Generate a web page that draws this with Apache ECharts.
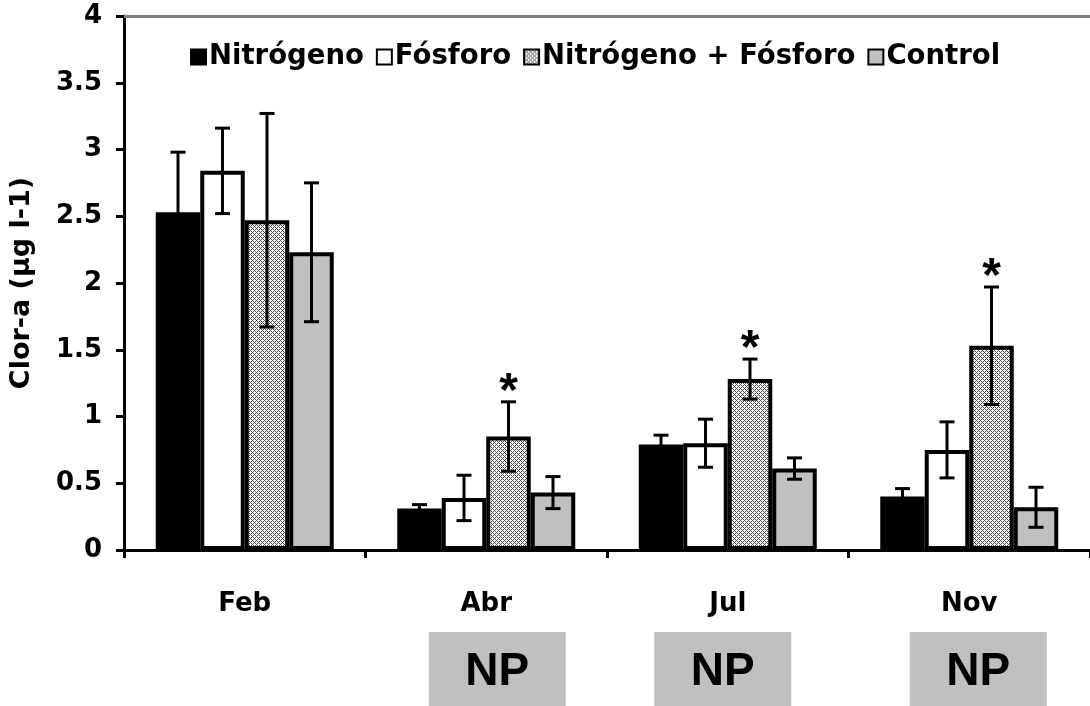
<!DOCTYPE html>
<html>
<head>
<meta charset="utf-8">
<script src="https://cdn.jsdelivr.net/npm/echarts@6/dist/echarts.min.js"></script>
<style>
  html, body { margin: 0; padding: 0; background: #fff; }
  #chart { width: 1090px; height: 706px; }
</style>
</head>
<body>
<div id="chart"></div>
<script>
// Sampling months
const months = ['Feb', 'Abr', 'Jul', 'Nov'];

// Treatment names
const seriesNames = ['Nitrógeno', 'Fósforo', 'Nitrógeno + Fósforo', 'Control'];

// Mean chlorophyll-a per treatment (µg l-1)
const nitrogeno = [2.53, 0.31, 0.79, 0.40];
const fosforo   = [2.84, 0.39, 0.80, 0.75];
const nitFos    = [2.47, 0.85, 1.28, 1.53];
const control   = [2.23, 0.43, 0.61, 0.32];

// Error (± half-range) for each mean
const nitrogenoErr = [0.45, 0.03, 0.07, 0.06];
const fosforoErr   = [0.32, 0.17, 0.18, 0.21];
const nitFosErr    = [0.80, 0.26, 0.15, 0.44];
const controlErr   = [0.52, 0.12, 0.08, 0.15];

// Significant N+P response marked with an asterisk
const nitFosSignif = [false, true, true, true];

// Y axis ticks
const yTicks = [0, 0.5, 1, 1.5, 2, 2.5, 3, 3.5, 4];

// Months with N+P co-limitation
const npMonths = ['Abr', 'Jul', 'Nov'];
const npLabel = 'NP';

const FONT = 'DejaVu Sans';
const FONT_ARIAL = 'Liberation Sans';
const BAR_W = 44.5;

// Fine cross-hatched fill for the N+P bars
function hatch() {
  const c = document.createElement('canvas');
  c.width = 4; c.height = 4;
  const ctx = c.getContext('2d');
  ctx.fillStyle = '#ffffff';
  ctx.fillRect(0, 0, 4, 4);
  ctx.fillStyle = '#4a4a4a';
  for (let x = 0; x < 4; x++) {
    for (let y = 0; y < 4; y++) {
      if ((x + y) % 4 === 0 || (x - y + 8) % 4 === 0) ctx.fillRect(x, y, 1, 1);
    }
  }
  return c;
}

const fills = ['#000000', '#ffffff', { image: hatch(), repeat: 'repeat' }, '#c0c0c0'];
const means = [nitrogeno, fosforo, nitFos, control];
const errs = [nitrogenoErr, fosforoErr, nitFosErr, controlErr];

const chart = echarts.init(document.getElementById('chart'), null, { renderer: 'canvas' });

const barSeries = seriesNames.map((name, i) => ({
  name: name,
  type: 'bar',
  data: means[i],
  barWidth: BAR_W,
  barGap: '0%',
  itemStyle: { color: fills[i], borderColor: '#000', borderWidth: 4 },
  emphasis: { disabled: true },
  z: 2
}));

const errSeries = seriesNames.map((name, i) => ({
  type: 'custom',
  data: months.map((m, k) => [k, means[i][k], errs[i][k], (i === 2 && nitFosSignif[k]) ? 1 : 0]),
  z: 5,
  silent: true,
  renderItem: function (params, api) {
    const k = api.value(0), v = api.value(1), e = api.value(2), sig = api.value(3);
    const c = api.coord([k, v]);
    const x = c[0] + (i - 1.5) * BAR_W;
    const yTop = api.coord([k, v + e])[1];
    const yBot = api.coord([k, v - e])[1];
    const cap = 7.5;
    const st = { stroke: '#000', lineWidth: 3 };
    const children = [
      { type: 'line', shape: { x1: x, y1: yTop, x2: x, y2: yBot }, style: st },
      { type: 'line', shape: { x1: x - cap, y1: yTop, x2: x + cap, y2: yTop }, style: st },
      { type: 'line', shape: { x1: x - cap, y1: yBot, x2: x + cap, y2: yBot }, style: st }
    ];
    if (sig) {
      children.push({
        type: 'text',
        style: {
          x: x, y: yTop - 9, text: '*', fill: '#000',
          font: 'bold 48px ' + FONT_ARIAL, textAlign: 'center', textVerticalAlign: 'middle'
        }
      });
    }
    return { type: 'group', children: children };
  }
}));

const option = {
  animation: false,
  backgroundColor: '#ffffff',
  legend: {
    data: seriesNames,
    left: 185,
    top: 38,
    icon: 'rect',
    itemWidth: 15,
    itemHeight: 15,
    itemGap: 12,
    itemStyle: { borderColor: '#000', borderWidth: 2 },
    textStyle: { fontFamily: FONT, fontWeight: 'bold', fontSize: 27.5, color: '#000', padding: [0, 0, 0, -2] },
    selectedMode: false
  },
  grid: { left: 124, top: 16, width: 974, height: 534, containLabel: false },
  xAxis: [
    {
      type: 'category',
      data: months,
      boundaryGap: true,
      axisLine: { lineStyle: { color: '#000', width: 3 } },
      axisTick: { show: true, length: 8, alignWithLabel: false, lineStyle: { color: '#000', width: 3 } },
      axisLabel: { fontFamily: FONT, fontWeight: 'bold', fontSize: 26, color: '#000', margin: 41 }
    },
    {
      type: 'category',
      data: months,
      position: 'top',
      axisLine: { lineStyle: { color: '#808080', width: 3 } },
      axisTick: { show: false },
      axisLabel: { show: false }
    }
  ],
  yAxis: {
    type: 'value',
    min: yTicks[0],
    max: yTicks[yTicks.length - 1],
    interval: yTicks[1] - yTicks[0],
    name: 'Clor-a (µg l-1)',
    nameLocation: 'middle',
    nameRotate: 90,
    nameGap: 89,
    nameTextStyle: { fontFamily: FONT, fontWeight: 'bold', fontSize: 27, color: '#000' },
    axisLine: { show: true, lineStyle: { color: '#000', width: 3 } },
    axisTick: { show: true, length: 8, lineStyle: { color: '#000', width: 3 } },
    axisLabel: { fontFamily: FONT, fontWeight: 'bold', fontSize: 26, color: '#000', margin: 22 },
    splitLine: { show: false }
  },
  series: barSeries.concat(errSeries)
};

chart.setOption(option);

// "NP" boxes beneath the months with N+P co-limitation
function drawNP() {
  const boxW = 137, boxH = 80, boxTop = 632;
  const shifts = { Abr: 11, Jul: -5, Nov: 9 };
  const elems = [];
  npMonths.forEach((m) => {
    const k = months.indexOf(m);
    const cx = chart.convertToPixel({ xAxisIndex: 0 }, k) + shifts[m];
    elems.push({
      type: 'rect',
      shape: { x: cx - boxW / 2, y: boxTop, width: boxW, height: boxH },
      style: { fill: '#c0c0c0' },
      silent: true
    });
    elems.push({
      type: 'text',
      style: {
        x: cx, y: 672, text: npLabel, fill: '#000',
        font: 'bold 46px ' + FONT_ARIAL, textAlign: 'center', textVerticalAlign: 'middle'
      },
      silent: true
    });
  });
  chart.setOption({ graphic: elems });
}
drawNP();
</script>
</body>
</html>
